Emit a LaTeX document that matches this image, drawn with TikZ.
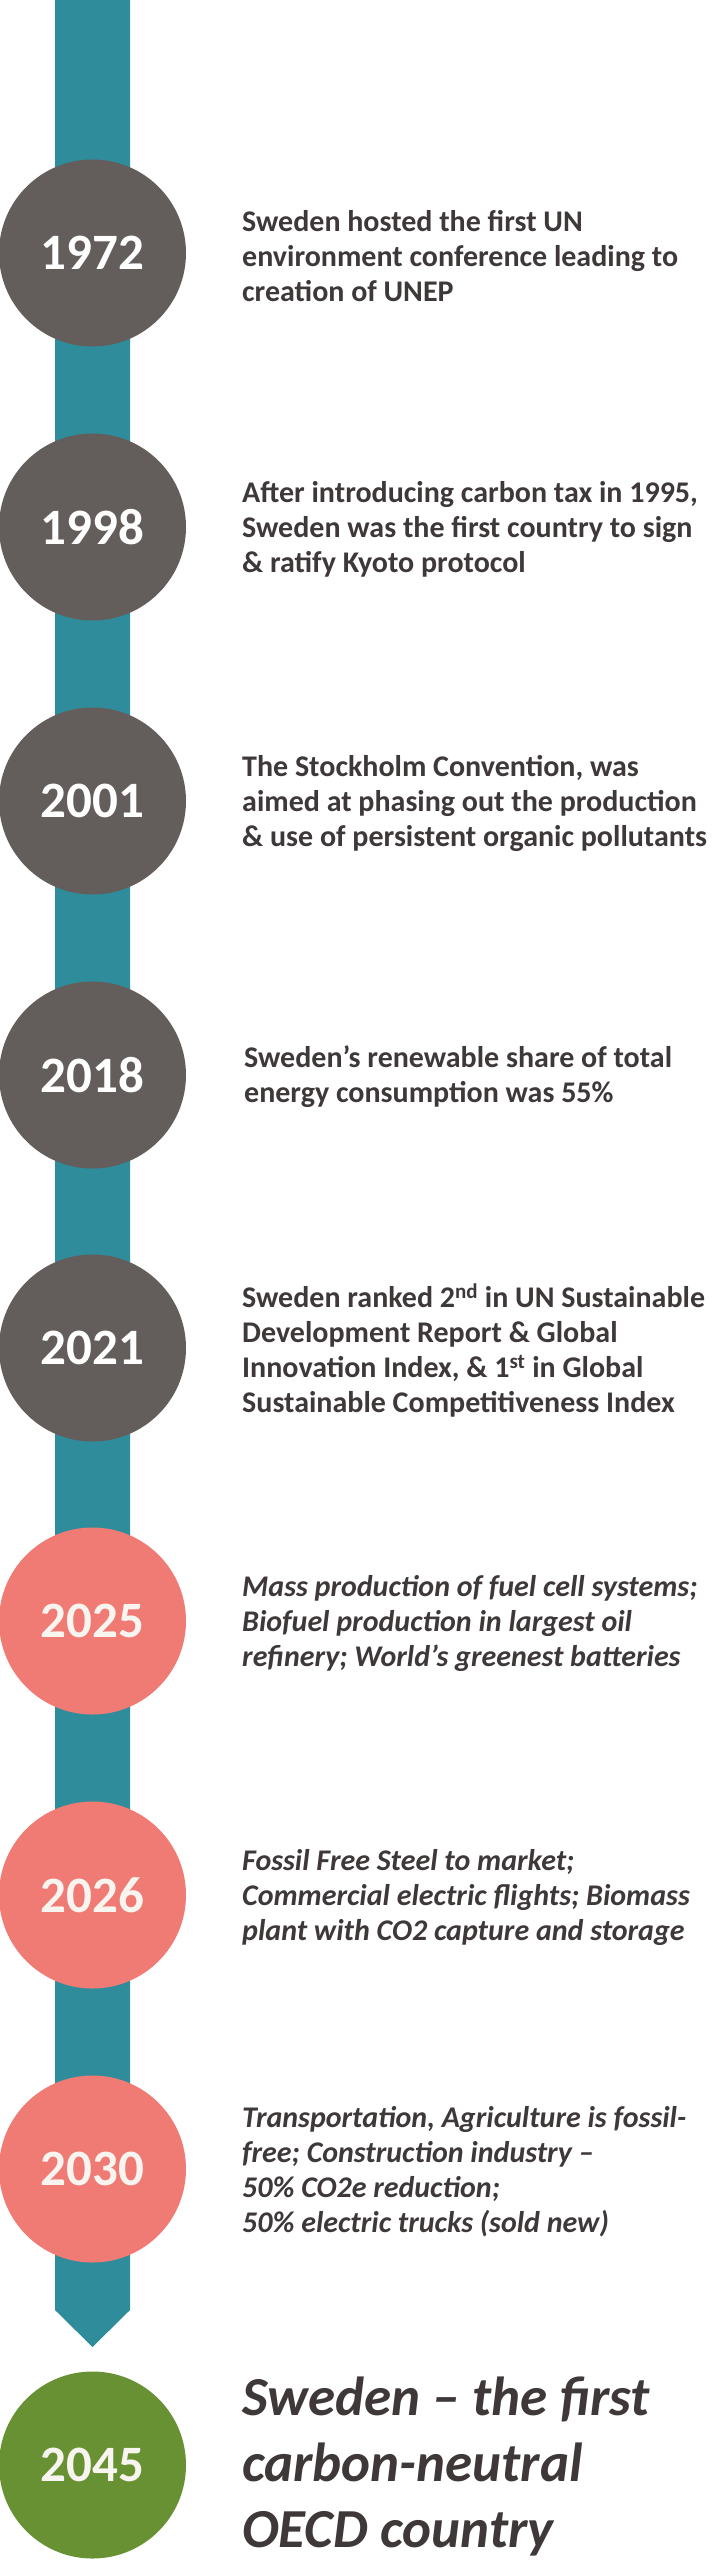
\documentclass[tikz,border=0pt]{standalone}
\usepackage{fontspec}
\setmainfont{Carlito}
\definecolor{barcol}{HTML}{2F8C9A}
\definecolor{graycol}{HTML}{635D5C}
\definecolor{coralcol}{HTML}{F07B74}
\definecolor{greencol}{HTML}{679133}
\definecolor{txtcol}{HTML}{3E3839}
\definecolor{offwhite}{HTML}{F8F5F0}
\begin{document}
\begin{tikzpicture}[x=1pt,y=-1pt,
  year/.style={circle,minimum size=187pt,inner sep=0pt,text=white,
    font=\fontsize{51}{60}\selectfont\bfseries},
  past/.style={year,fill=graycol},
  soon/.style={year,fill=coralcol,text=offwhite},
  goal/.style={year,fill=greencol,text=offwhite},
  desc/.style={anchor=west,align=left,inner sep=0pt,text=txtcol,
    font=\fontsize{30}{35}\selectfont\bfseries},
  fdesc/.style={desc,font=\fontsize{30}{35}\selectfont\bfseries\itshape},
  gdesc/.style={desc,font=\fontsize{55}{66}\selectfont\bfseries\itshape}]
\fill[white] (0,0) rectangle (712,2560);
\useasboundingbox (0,0) rectangle (712,2560);
% timeline bar with arrow head
\coordinate (bartopL) at (55,0);
\coordinate (bartopR) at (130,0);
\coordinate (shR) at (130,2310);
\coordinate (tip) at (92.5,2347);
\coordinate (shL) at (55,2310);
\fill[barcol] (bartopL) -- (bartopR) -- (shR) -- (tip) -- (shL) -- cycle;
% circles
\node[past] (c1972) at (92.5,253) {1972};
\node[past] (c1998) at (92.5,527) {1998};
\node[past] (c2001) at (92.5,801) {2001};
\node[past] (c2018) at (92.5,1075) {2018};
\node[past] (c2021) at (92.5,1348) {2021};
\node[soon] (c2025) at (92.5,1621) {2025};
\node[soon] (c2026) at (92.5,1895) {2026};
\node[soon] (c2030) at (92.5,2169) {2030};
\node[goal] (c2045) at (92.5,2465) {2045};
% descriptions
\node[desc] (t1972) at (242,256) {Sweden hosted the first UN\\environment conference leading to\\creation of UNEP};
\node[desc] (t1998) at (242,529) {After introducing carbon tax in 1995,\\Sweden was the first country to sign\\\& ratify Kyoto protocol};
\node[desc] (t2001) at (242,803) {The Stockholm Convention, was\\aimed at phasing out the production\\\& use of persistent organic pollutants};
\node[desc] (t2018) at (244,1077) {Sweden’s renewable share of total\\energy consumption was 55\%};
\node[desc] (t2021) at (242,1350) {Sweden ranked 2\textsuperscript{nd} in UN Sustainable\\Development Report \& Global\\Innovation Index, \& 1\textsuperscript{st} in Global\\Sustainable Competitiveness Index};
\node[fdesc] (t2025) at (242,1623) {Mass production of fuel cell systems;\\Biofuel production in largest oil\\refinery; World’s greenest batteries};
\node[fdesc] (t2026) at (242,1897) {Fossil Free Steel to market;\\Commercial electric flights; Biomass\\plant with CO2 capture and storage};
\node[fdesc] (t2030) at (242,2172) {Transportation, Agriculture is fossil-\\free; Construction industry –\\50\% CO2e reduction;\\50\% electric trucks (sold new)};
\node[gdesc] (t2045) at (242,2466) {Sweden – the first\\carbon-neutral\\OECD country};
\end{tikzpicture}
\end{document}
